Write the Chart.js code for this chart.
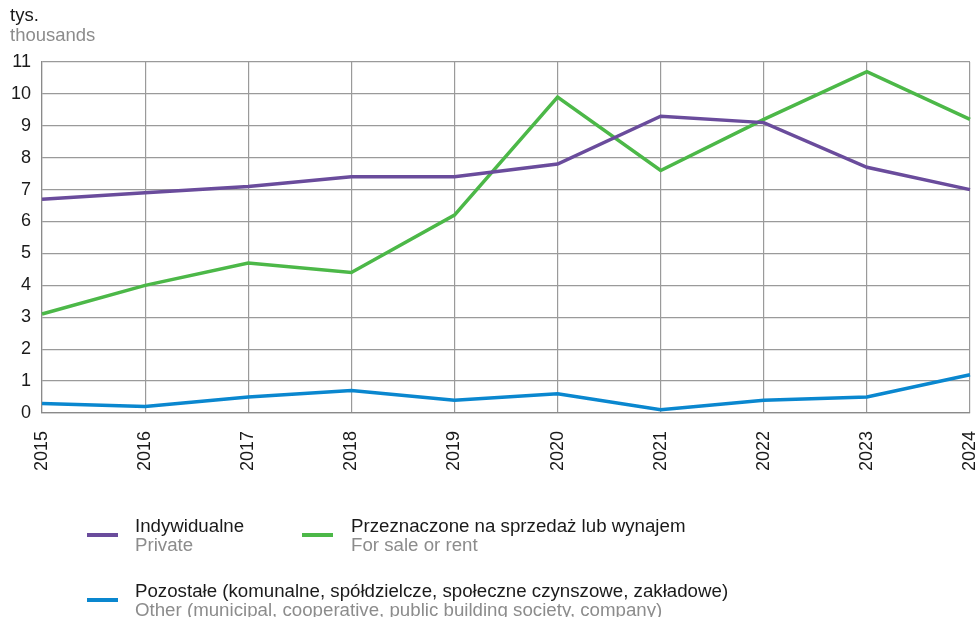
<!DOCTYPE html>
<html>
<head>
<meta charset="utf-8">
<script src="https://cdn.jsdelivr.net/npm/chart.js@4"></script>
<style>
  html, body { margin: 0; padding: 0; background: #fff; overflow: hidden; }
  #wrap { position: relative; width: 978px; height: 617px; font-family: "Liberation Sans", Arial, sans-serif; }
  #chart { position: absolute; left: 0; top: 0; }
  .unit { position: absolute; left: 10px; font-size: 18.5px; line-height: 19px; white-space: nowrap; }
  .legend-item { position: absolute; font-size: 18.7px; line-height: 18.5px; }
  .legend-item .swatch { position: absolute; left: 0; width: 31px; height: 4px; }
  .legend-item .pl { position: absolute; white-space: nowrap; color: #1a1a1a; }
  .legend-item .en { position: absolute; white-space: nowrap; color: #8c8c8c; }
</style>
</head>
<body>
<div id="wrap">
  <canvas id="chart" width="978" height="617"></canvas>
  <div class="unit" style="top:5px;color:#1a1a1a;">tys.</div>
  <div class="unit" style="top:25px;color:#8c8c8c;">thousands</div>
  <div id="legend"></div>
</div>
<script>
// Years on the category axis
const years = ['2015', '2016', '2017', '2018', '2019', '2020', '2021', '2022', '2023', '2024'];

// Dwellings completed, thousands
const privateValues = [6.7, 6.9, 7.1, 7.4, 7.4, 7.8, 9.3, 9.1, 7.7, 7.0];
const saleRentValues = [3.1, 4.0, 4.7, 4.4, 6.2, 9.9, 7.6, 9.2, 10.7, 9.2];
const otherValues = [0.3, 0.2, 0.5, 0.7, 0.4, 0.6, 0.1, 0.4, 0.5, 1.2];

// Legend labels, Polish and English
const seriesLabelsPl = ['Indywidualne', 'Przeznaczone na sprzedaż lub wynajem', 'Pozostałe (komunalne, spółdzielcze, społeczne czynszowe, zakładowe)'];
const seriesLabelsEn = ['Private', 'For sale or rent', 'Other (municipal, cooperative, public building society, company)'];

const colors = ['#6a4c9c', '#4cb848', '#0a87cf'];

const datasets = [privateValues, saleRentValues, otherValues].map((vals, i) => ({
  label: seriesLabelsPl[i],
  data: vals,
  borderColor: colors[i],
  backgroundColor: colors[i],
  borderWidth: 3.5,
  pointRadius: 0,
  tension: 0,
  fill: false
}));

// Two-line legend under the chart: swatch, Polish label, English label
const legendPos = [
  { x: 87, y: 517, textX: 48 },
  { x: 302, y: 517, textX: 49 },
  { x: 87, y: 582, textX: 48 }
];
const legend = document.getElementById('legend');
seriesLabelsPl.forEach((pl, i) => {
  const p = legendPos[i];
  const item = document.createElement('div');
  item.className = 'legend-item';
  item.style.left = p.x + 'px';
  item.style.top = p.y + 'px';
  item.innerHTML =
    '<div class="swatch" style="top:16px;background:' + colors[i] + '"></div>' +
    '<div class="pl" style="left:' + p.textX + 'px;top:0px">' + pl + '</div>' +
    '<div class="en" style="left:' + p.textX + 'px;top:18.5px">' + seriesLabelsEn[i] + '</div>';
  legend.appendChild(item);
});

new Chart(document.getElementById('chart'), {
  type: 'line',
  data: { labels: years, datasets },
  options: {
    responsive: false,
    animation: false,
    layout: { padding: { left: 0, right: 8, top: 62, bottom: 128 } },
    plugins: { legend: { display: false }, tooltip: { enabled: false } },
    scales: {
      x: {
        offset: false,
        // rotated year labels need no extra side room
        afterFit(scale) { scale.paddingLeft = 0; scale.paddingRight = 0; },
        grid: { color: '#9a9a9a', lineWidth: 1.2, drawTicks: false },
        border: { color: '#8a8a8a', width: 1.2 },
        ticks: {
          color: '#1a1a1a',
          font: { family: 'Liberation Sans', size: 18 },
          maxRotation: 90,
          minRotation: 90,
          padding: 18
        }
      },
      y: {
        min: 0,
        max: 11,
        grid: { color: '#9a9a9a', lineWidth: 1.2, drawTicks: false },
        border: { color: '#8a8a8a', width: 1.2 },
        ticks: {
          stepSize: 1,
          color: '#1a1a1a',
          font: { family: 'Liberation Sans', size: 18 },
          padding: 11
        }
      }
    }
  }
});
</script>
</body>
</html>
